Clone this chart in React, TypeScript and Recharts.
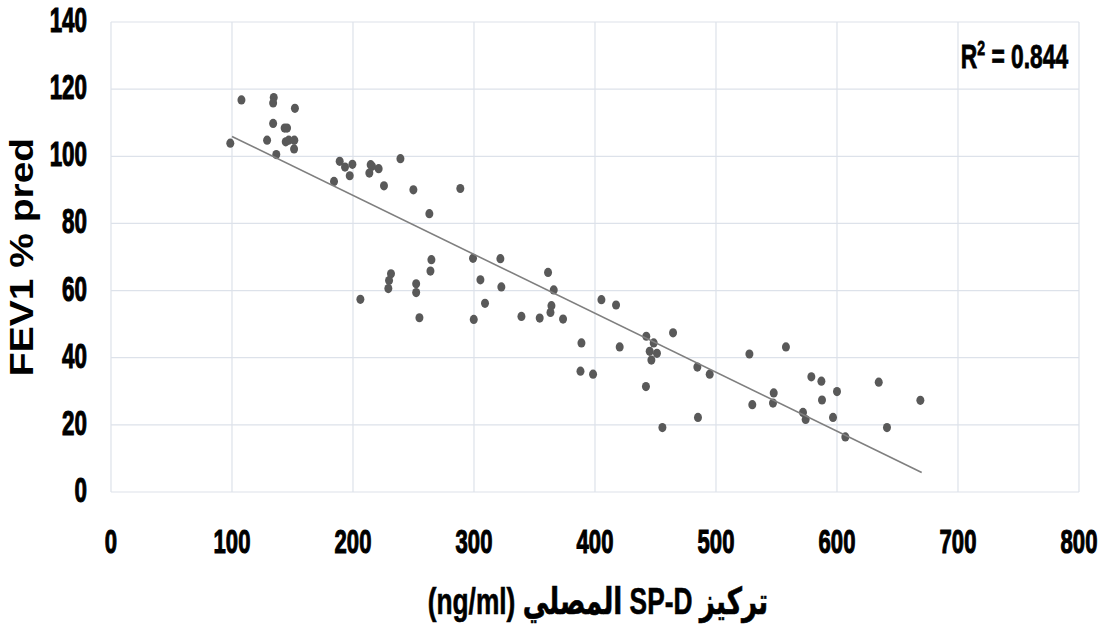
import { CartesianGrid, Scatter, ScatterChart, XAxis, YAxis } from "recharts";

// serum SP-D (ng/ml) vs FEV1 % predicted
const spdConc = [
  98.6, 107.8, 134.5, 134, 152, 134, 143.5, 145.5, 129, 144.4, 146.9, 151.5, 151.3, 136.6,
  189, 193.4, 199.5, 197.3, 184.3, 214.6, 215.7, 213.5, 221.2, 239.2, 225.6, 249.9, 263.1,
  288.7, 264.8, 264, 299.2, 305.3, 231.4, 229.8, 229.2, 252.2, 252.2, 206.1, 254.9, 299.8,
  309.1, 321.8, 322.6, 339.2, 354.3, 361.2, 365.9, 364, 363.2, 373.6, 388.8, 388, 398.4,
  405.3, 417.4, 420.4, 442.4, 448.5, 445.2, 446.6, 451.2, 464.5, 442.1, 455.7, 484.6, 485.1,
  494.8, 527.6, 557.8, 530, 547.7, 547.1, 578.8, 587.1, 587.6, 600, 571.9, 574.1, 596.7,
  606.9, 634.5, 641.3, 668.9,
];
const fev1Pred = [
  103.9, 116.8, 117.5, 115.9, 114.3, 109.8, 108.4, 108.4, 104.8, 104.3, 104.8, 104.8, 102.2, 100.5,
  98.5, 96.8, 97.6, 94.2, 92.5, 97.5, 97, 95, 96.3, 99.3, 91.2, 90, 82.9,
  90.4, 69.2, 65.8, 69.6, 63.2, 65, 63, 60.6, 62, 59.4, 57.4, 51.9, 51.4,
  56.2, 69.5, 61.1, 52.3, 51.8, 65.4, 60.2, 55.5, 53.5, 51.5, 44.4, 36, 35.1,
  57.3, 55.7, 43.2, 46.4, 44.4, 41.9, 39.3, 41.3, 47.4, 31.4, 19.2, 37.2, 22.2,
  35.1, 41.1, 43.2, 26, 29.5, 26.5, 34.3, 33, 27.4, 29.9, 23.7, 21.6, 22.2,
  16.4, 32.7, 19.2, 27.3,
];

// linear trend line end points
const trendX = [100, 670];
const trendY = [105.9, 5.8];

const xTicks = [0, 100, 200, 300, 400, 500, 600, 700, 800];
const yTicks = [0, 20, 40, 60, 80, 100, 120, 140];
const rSquared = "0.844";

const points = spdConc.map((x, i) => ({ x, y: fev1Pred[i] }));
const trend = trendX.map((x, i) => ({ x, y: trendY[i] }));

const font = "'Liberation Sans', Arial, 'DejaVu Sans', sans-serif";

function XTick({ x, y, payload }: any) {
  return (
    <g transform={`translate(${x},${y + 61}) scale(0.65,1)`}>
      <text textAnchor="middle" fill="#000" stroke="#000" strokeWidth={1.1} fontSize={34} fontWeight={700} fontFamily={font}>
        {payload.value}
      </text>
    </g>
  );
}

function YTick({ x, y, payload }: any) {
  return (
    <g transform={`translate(${x - 24},${y + 10}) scale(0.64,1)`}>
      <text textAnchor="end" fill="#000" stroke="#000" strokeWidth={1.1} fontSize={35} fontWeight={700} fontFamily={font}>
        {payload.value}
      </text>
    </g>
  );
}

function YTitle({ viewBox }: any) {
  const cy = viewBox.y + viewBox.height / 2;
  return (
    <g transform={`translate(33,${cy}) scale(0.85,1) rotate(-90)`}>
      <text textAnchor="middle" fill="#000" fontSize={39} fontWeight={700} fontFamily={font}>
        FEV1 % pred
      </text>
    </g>
  );
}

export default function App() {
  return (
    <div style={{ position: "absolute", left: 0, top: 0, width: 1103, height: 625, background: "#fff" }}>
      <ScatterChart width={1103} height={625} margin={{ top: 22, right: 24, bottom: 73, left: 0 }}>
        <CartesianGrid stroke="#dde2ea" strokeWidth={1.2} />
        <XAxis
          type="number"
          dataKey="x"
          domain={[0, 800]}
          ticks={xTicks}
          axisLine={false}
          tickLine={false}
          tickSize={0}
          tickMargin={0}
          height={60}
          tick={<XTick />}
        />
        <YAxis
          type="number"
          dataKey="y"
          domain={[0, 140]}
          ticks={yTicks}
          axisLine={false}
          tickLine={false}
          tickSize={0}
          tickMargin={0}
          width={111}
          tick={<YTick />}
          label={<YTitle />}
        />
        <Scatter
          data={points}
          fill="#595959"
          isAnimationActive={false}
          shape={(p: any) => <ellipse cx={p.cx} cy={p.cy} rx={4} ry={4.6} fill="#595959" />}
        />
        <Scatter
          data={trend}
          isAnimationActive={false}
          line={{ stroke: "#7f7f7f", strokeWidth: 1.6 }}
          shape={() => <g />}
        />
      </ScatterChart>
      <div
        style={{
          position: "absolute",
          right: 1103 - 1068,
          top: 36,
          whiteSpace: "nowrap",
          fontFamily: font,
          fontWeight: 700,
          fontSize: 34,
          color: "#000",
          lineHeight: "40px",
          WebkitTextStroke: "0.8px #000",
          transform: "scaleX(0.67)",
          transformOrigin: "right center",
        }}
      >
        R<sup style={{ fontSize: 21, lineHeight: 0, verticalAlign: "0.6em" }}>2</sup> = {rSquared}
      </div>
      <div
        dir="rtl"
        style={{
          position: "absolute",
          left: 598 - 300,
          width: 600,
          top: 582,
          textAlign: "center",
          whiteSpace: "nowrap",
          fontFamily: font,
          fontWeight: 700,
          fontSize: 37,
          color: "#000",
          lineHeight: "40px",
          WebkitTextStroke: "0.6px #000",
          transform: "scaleX(0.71)",
          transformOrigin: "center center",
        }}
      >
        تركيز SP-D المصلي (ng/ml)
      </div>
    </div>
  );
}
